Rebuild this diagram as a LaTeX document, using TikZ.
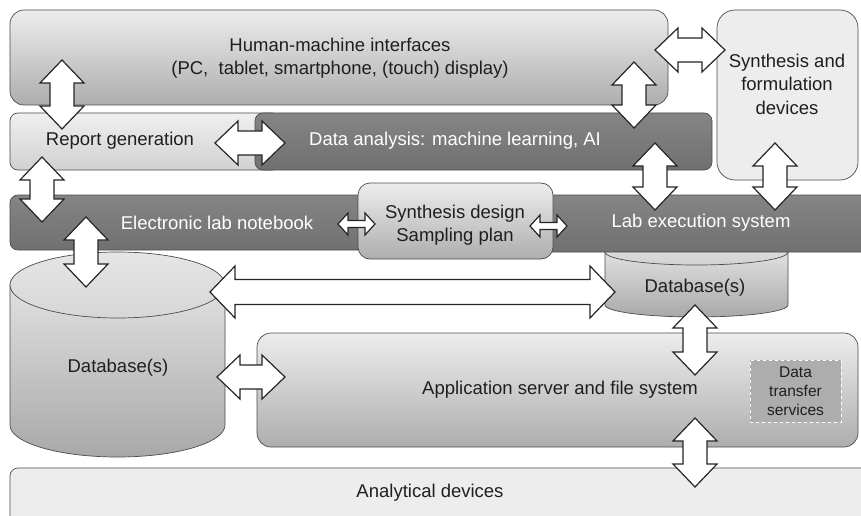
\documentclass[tikz,border=0pt]{standalone}
\usepackage{fontspec}
\setmainfont{Liberation Sans}
\usetikzlibrary{calc, positioning}

\tikzset{
  box/.style={draw=black!70, line width=0.7pt, rounded corners=14pt, inner sep=0pt, outer sep=0pt},
  lightbox/.style={box, top color=black!7, bottom color=black!32},
  darkbar/.style={box, rounded corners=8pt, top color=black!48, bottom color=black!56},
  flatbox/.style={box, fill=black!7},
  txt/.style={font=\fontsize{18.5}{23.5}\selectfont, text=black!88, align=center},
  wtxt/.style={txt, text=white},
  dts/.style={draw=white, dashed, line width=0.8pt, fill=black!32, inner sep=0pt,
    font=\fontsize{15.5}{19}\selectfont, text=black!88, align=center},
  cyl/.style={draw=black!70, line width=0.7pt, top color=black!12, bottom color=black!34},
  blockarrow/.style={draw=black!85, fill=white, line width=1.2pt, line join=miter},
}

% from, to, shaft half width, head half width, head length
\newcommand{\dblarrow}[5]{%
  \draw[blockarrow] let \p1=(#1), \p2=(#2), \n1={atan2(\y2-\y1,\x2-\x1)},
    \n2={veclen(\x2-\x1,\y2-\y1)} in [shift={(\p1)}, rotate=\n1]
    (0,0) -- (#5,#4) -- (#5,#3) -- (\n2-#5,#3) -- (\n2-#5,#4) -- (\n2,0)
    -- (\n2-#5,-#4) -- (\n2-#5,-#3) -- (#5,-#3) -- (#5,-#4) -- cycle;}

\begin{document}
\begin{tikzpicture}[x=1pt, y=-1pt]
  \useasboundingbox[fill=white] (0,0) rectangle (861,516);

  % upper layer
  \node[lightbox, minimum width=658, minimum height=95] (hmi) at (339,57.5) {};
  \node[flatbox, rounded corners=18pt, minimum width=141, minimum height=170] (synfd) at (787.5,95) {};
  \node[lightbox, rounded corners=8pt, top color=black!6, bottom color=black!18,
    minimum width=270, minimum height=57] (report) at (145,141.5) {};
  \node[darkbar, minimum width=457, minimum height=57] (analysis) at (483.5,141.5) {};

  % right database, partly behind the lab execution system
  \draw[cyl] (605,252) -- (605,305) arc[start angle=180, end angle=0, x radius=91.5, y radius=12]
    -- (788,252) -- cycle;
  \draw[cyl, top color=black!10, bottom color=black!18] (696.5,252) ellipse [x radius=91.5, y radius=13];
  \coordinate (dbr) at (695,288);

  \node[darkbar, minimum width=370, minimum height=55] (eln) at (195,222.5) {};
  \node[darkbar, minimum width=335, minimum height=57] (les) at (707.5,223.5) {};
  \node[lightbox, rounded corners=12pt, minimum width=195, minimum height=76] (design) at (455.5,221) {};

  % left database
  \draw[cyl] (10,285) -- (10,425) arc[start angle=180, end angle=0, x radius=107.5, y radius=32]
    -- (225,285) -- cycle;
  \draw[cyl, top color=black!10, bottom color=black!16] (117.5,285) ellipse [x radius=107.5, y radius=33];
  \coordinate (dbl) at (118,368);

  \node[lightbox, minimum width=601, minimum height=114] (server) at (557.5,390) {};
  \node[dts, minimum width=91, minimum height=62] (transfer) at (795.5,391) {Data\\transfer\\services};
  \node[flatbox, rounded corners=8pt, minimum width=865, minimum height=72] (analytical) at (442.5,504) {};

  % texts
  \node[txt] (hmi-t) at (340,58) {Human-machine interfaces\\(PC,\ \ tablet, smartphone, (touch) display)};
  \node[txt] (synfd-t) at (787,84) {Synthesis and\\formulation\\devices};
  \node[txt] (report-t) at (120,141) {Report generation};
  \node[wtxt] (analysis-t) at (455,141) {Data analysis: machine learning, AI};
  \node[wtxt] (eln-t) at (217,223) {Electronic lab notebook};
  \node[txt] (design-t) at (455,225) {Synthesis design\\Sampling plan};
  \node[wtxt] (les-t) at (701,223) {Lab execution system};
  \node[txt] (dbr-t) at (dbr) {Database(s)};
  \node[txt] (dbl-t) at (dbl) {Database(s)};
  \node[txt] (server-t) at (560,390) {Application server and file system};
  \node[txt] (analytical-t) at (430,493) {Analytical devices};

  % arrow ends
  \coordinate (a1) at (62,60);   \coordinate (b1) at (62,129);
  \coordinate (a2) at (42,157);  \coordinate (b2) at (42,222);
  \coordinate (a3) at (215,143); \coordinate (b3) at (285,143);
  \coordinate (a4) at (86,217);  \coordinate (b4) at (86,287);
  \coordinate (a5) at (338,224); \coordinate (b5) at (375,224);
  \coordinate (a6) at (530,226); \coordinate (b6) at (567,226);
  \coordinate (a7) at (655,50);  \coordinate (b7) at (725,50);
  \coordinate (a8) at (634,62);  \coordinate (b8) at (634,128);
  \coordinate (a9) at (655,143); \coordinate (b9) at (655,210);
  \coordinate (a10) at (775,143); \coordinate (b10) at (775,210);
  \coordinate (a11) at (210,292); \coordinate (b11) at (615,292);
  \coordinate (a12) at (217,377); \coordinate (b12) at (285,377);
  \coordinate (a13) at (695,305); \coordinate (b13) at (695,375);
  \coordinate (a14) at (695,418); \coordinate (b14) at (695,487);

  \foreach \i in {1,2,3,4,7,8,9,10,12,13,14} {\dblarrow{a\i}{b\i}{12}{22}{23}}
  \dblarrow{a5}{b5}{3.5}{11}{10}
  \dblarrow{a6}{b6}{3.5}{11}{10}
  \dblarrow{a11}{b11}{12.5}{26}{25}
\end{tikzpicture}
\end{document}
